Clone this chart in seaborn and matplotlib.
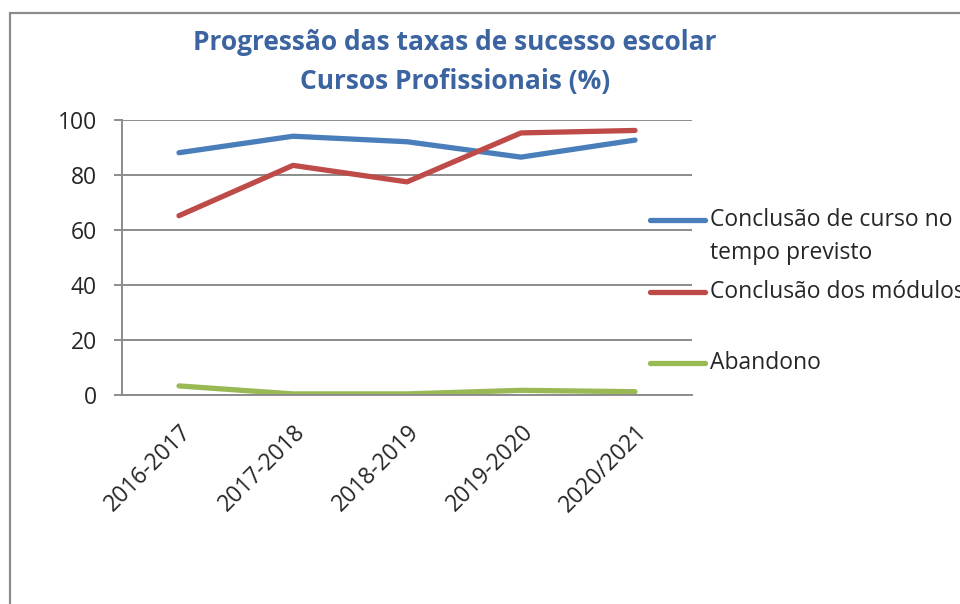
import seaborn as sns
import pandas as pd
import matplotlib.pyplot as plt
from matplotlib.lines import Line2D
from matplotlib.patches import Rectangle

anos = ["2016-2017", "2017-2018", "2018-2019", "2019-2020", "2020/2021"]
conclusao_curso = [88.1, 94.1, 92.1, 86.5, 92.7]
conclusao_modulos = [65.2, 83.5, 77.5, 95.3, 96.2]
abandono = [3.3, 0.4, 0.4, 1.7, 1.2]

series = ["Conclusão de curso no\ntempo previsto", "Conclusão dos módulos", "Abandono"]
cores = ["#4A7EBB", "#BE4B48", "#98B954"]

df = pd.DataFrame({
    "ano": anos * 3,
    "valor": conclusao_curso + conclusao_modulos + abandono,
    "serie": [series[0]] * 5 + [series[1]] * 5 + [series[2]] * 5,
})

sns.set_style("white")
plt.rcParams["font.family"] = ["Open Sans", "DejaVu Sans"]

W, H = 960, 604
fig = plt.figure(figsize=(9.6, 6.04), dpi=100)
ax = fig.add_axes([122 / W, 1 - 395 / H, (692 - 122) / W, (395 - 120) / H])

sns.lineplot(data=df, x="ano", y="valor", hue="serie", palette=cores,
             linewidth=3.8, legend=False, ax=ax, solid_capstyle="round")

cinza = "#8C8C8C"
ax.set_xlim(-0.5, 4.5)
ax.set_ylim(0, 100)
ax.set_yticks(range(0, 101, 20))
ax.yaxis.grid(True, color=cinza, linewidth=1.4)
ax.set_axisbelow(True)
ax.set_xlabel("")
ax.set_ylabel("")
for s in ["top", "right"]:
    ax.spines[s].set_visible(False)
for s in ["left", "bottom"]:
    ax.spines[s].set_color(cinza)
    ax.spines[s].set_linewidth(1.4)

ax.set_xticks(range(5))
ax.set_xticklabels(anos, rotation=45, ha="right", rotation_mode="anchor")
ax.set_xticks([i - 0.5 for i in range(6)], minor=True)
ax.tick_params(axis="x", which="major", length=0, pad=18, labelsize=16.5)
ax.tick_params(axis="x", which="minor", length=6, width=1.4, color=cinza, direction="out")
ax.tick_params(axis="y", length=6, width=1.4, color=cinza, direction="out", left=True,
               labelsize=16.5, pad=12)

fig.text(455 / W, 1 - 43 / H, "Progressão das taxas de sucesso escolar",
         ha="center", va="center", fontsize=19, fontweight="bold", color="#3B64A0")
fig.text(455 / W, 1 - 81 / H, "Cursos Profissionais (%)",
         ha="center", va="center", fontsize=19, fontweight="bold", color="#3B64A0")

# legenda à direita, como no Excel
leg_y = [220, 292, 363]
for lbl, cor, y in zip(series, cores, leg_y):
    fig.add_artist(Line2D([650 / W, 705 / W], [1 - y / H, 1 - y / H], color=cor,
                          linewidth=3.8, solid_capstyle="round", transform=fig.transFigure))
    fig.text(710 / W, 1 - (y - 12) / H, lbl, ha="left", va="top", fontsize=16.5,
             linespacing=1.5)

fig.add_artist(Rectangle((10 / W, -0.1), 1.2, 1.1 - 13 / H, fill=False,
                         edgecolor="#8C8C8C", linewidth=1.6, transform=fig.transFigure))

fig.savefig("out.png", dpi=100)
